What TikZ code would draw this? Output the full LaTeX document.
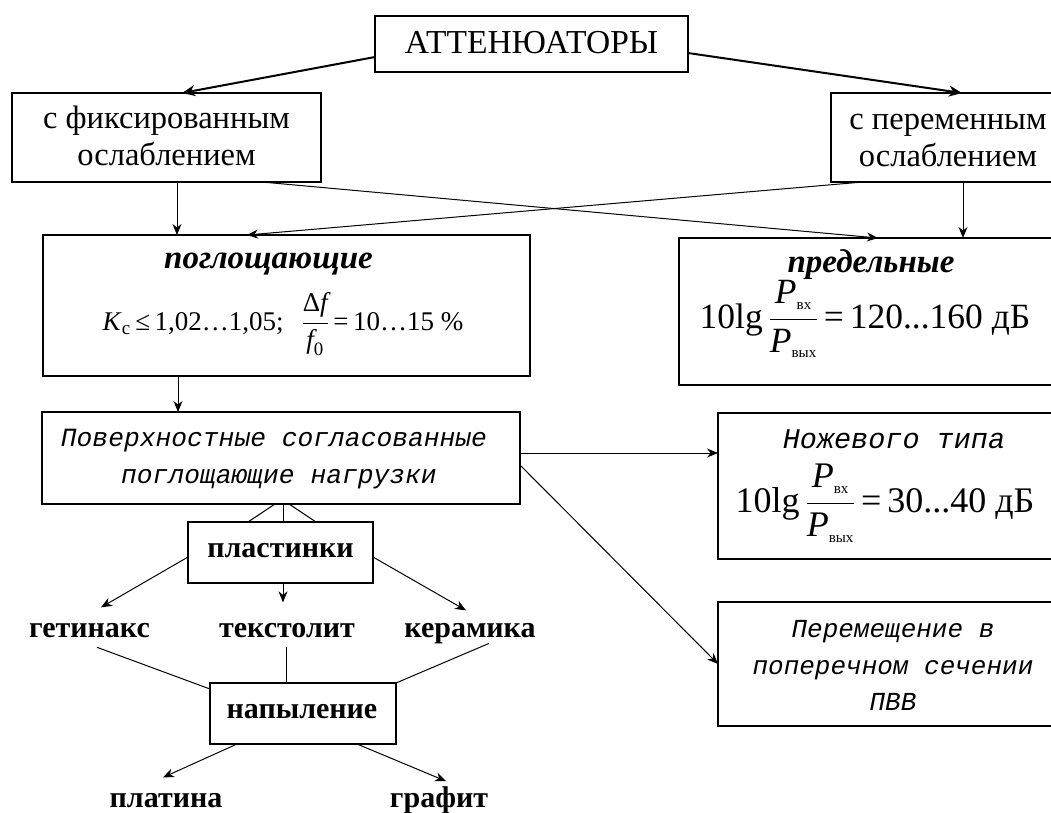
\RequirePackage{fix-cm}
\documentclass[tikz,border=0pt]{standalone}
\usepackage{amsmath}
\usepackage{fontspec}
\setmainfont{Liberation Serif}
\newfontfamily\decofont{Liberation Mono}
\usetikzlibrary{arrows.meta,calc}
\newcommand{\setfs}[1]{\fontsize{#1}{#1}\selectfont}
\newcommand{\subfs}[1]{\text{\fontsize{15}{15}\selectfont #1}}
\newcommand{\pfrac}{$\dfrac{\textit{P}_{\subfs{вх}}}{\textit{P}_{\subfs{вых}}}$}
\begin{document}
\begin{tikzpicture}[x=1pt,y=-1pt,
  box/.style={draw,line width=1.3pt,inner sep=0,outer sep=0},
  txt/.style={inner sep=0,outer sep=0,anchor=base},
  lbl/.style={txt,font=\setfs{30}\bfseries},
  con/.style={line width=1pt},
  thk/.style={line width=2pt},
  arr/.style={-{Stealth[length=11pt,width=9pt,inset=3.5pt]}},
  arrb/.style={-{Stealth[length=13pt,width=11pt,inset=4pt]}}]
\useasboundingbox (0,0) rectangle (1051,812);
% boxes
\node[box,minimum width=313pt,minimum height=56pt] (att) at (531.5,44) {};
\node[box,minimum width=309pt,minimum height=89pt] (fix) at (166.5,137.5) {};
\node[box,minimum width=229pt,minimum height=89pt] (var) at (945.5,137.5) {};
\node[box,minimum width=487pt,minimum height=141pt] (pog) at (286.5,305.5) {};
\node[box,minimum width=381pt,minimum height=147pt] (pred) at (869.5,311.5) {};
\node[box,minimum width=478pt,minimum height=92pt] (surf) at (281,458) {};
\node[box,minimum width=342pt,minimum height=146pt] (knife) at (889,486) {};
\node[box,minimum width=342pt,minimum height=124pt] (move) at (889,664) {};
\node[box,minimum width=185pt,minimum height=61pt] (plast) at (280.5,552.5) {};
\node[box,minimum width=186pt,minimum height=61pt] (nap) at (303,713.5) {};
% texts
\node[txt,font=\setfs{33.5}] (tatt) at (531.5,53) {АТТЕНЮАТОРЫ};
\node[txt,font=\setfs{32.5}] (tfix1) at (166.5,128) {с фиксированным};
\node[txt,font=\setfs{32.5}] (tfix2) at (166.5,165) {ослаблением};
\node[txt,font=\setfs{32.5}] (tvar1) at (948,129) {с переменным};
\node[txt,font=\setfs{32.5}] (tvar2) at (948,166) {ослаблением};
\node[txt,font=\setfs{33}\bfseries\itshape] (tpog) at (268.5,268) {поглощающие};
\node[txt,font=\setfs{27}] (fpog) at (283,330)
  {\textit{K}\textsubscript{с}\,≤\,1,02…1,05;\hspace{18pt}$\dfrac{\text{Δ}\textit{f}}{\textit{f}_{\text{0}}}$\,=\,10…15 \%};
\node[txt,font=\setfs{33}\bfseries\itshape] (tpred) at (871,272) {предельные};
\node[txt,font=\setfs{35.5}] (fpred) at (865,328) {10lg\,\pfrac\,=\,120...160 дБ};
\node[txt,font=\setfs{26.3}\decofont\itshape] (tsurf1) at (274,446) {Поверхностные согласованные};
\node[txt,font=\setfs{26.3}\decofont\itshape] (tsurf2) at (279,483) {поглощающие нагрузки};
\node[txt,font=\setfs{28.5}\decofont\itshape] (tknife) at (894,448) {Ножевого типа};
\node[txt,font=\setfs{36}] (fknife) at (885,512) {10lg\,\pfrac\,=\,30...40 дБ};
\node[txt,font=\setfs{26}\decofont\itshape] (tmove1) at (893,637) {Перемещение в};
\node[txt,font=\setfs{26}\decofont\itshape] (tmove2) at (893,674) {поперечном сечении};
\node[txt,font=\setfs{26}\decofont\itshape] (tmove3) at (893,710) {ПВВ};
\node[lbl] (tplast) at (280.5,557) {пластинки};
\node[lbl] (tnap) at (302,718) {напыление};
\node[lbl] (get) at (89.5,637) {гетинакс};
\node[lbl] (tex) at (287,637) {текстолит};
\node[lbl] (ker) at (470,637) {керамика};
\node[lbl] (plat) at (166,807) {платина};
\node[lbl] (graf) at (439,807) {графит};
% helper coordinates
\coordinate (f1) at ($(fix.south west)+(165,0)$);
\coordinate (v1) at ($(var.south west)+(132,0)$);
\coordinate (p1) at ($(pog.south west)+(135,0)$);
\coordinate (s1) at ($(surf.east)+(0,-5)$);
\coordinate (c1) at ($(surf.south)+(2,0)$);
\coordinate (t0) at ($(plast.south)+(2.5,0)$);
\coordinate (t1) at (t0 |- tex.north);
% connectors
\draw[thk,arrb] ($(att.west)+(0,13)$) -- ($(fix.north)+(15.5,0)$);
\draw[thk,arrb] ($(att.east)+(0,9)$) -- ($(var.north west)+(131,0)$);
\draw[con,arr] (f1) -- (f1 |- pog.north);
\draw[con,arr] ($(fix.south west)+(250,0)$) -- ($(pred.north west)+(199,0)$);
\draw[con,arr] ($(var.south west)+(32,0)$) -- ($(pog.north west)+(204,0)$);
\draw[con,arr] (v1) -- (v1 |- pred.north);
\draw[con,arr] (p1) -- (p1 |- surf.north);
\draw[con,arr] (s1) -- (s1 -| knife.west);
\draw[con,arr] ($(surf.east)+(0,7)$) -- (move.west);
\draw[con] (c1) -- (c1 |- plast.north);
\draw[con] ($(surf.south)+(-6,0)$) -- ($(plast.north)+(-32.5,0)$);
\draw[con] ($(surf.south)+(8,0)$) -- ($(plast.north)+(35.5,0)$);
\draw[con,arr] ($(plast.west)+(0,4.5)$) -- ($(get.north)+(11.5,-15.5)$);
\draw[con,arr] (t0) -- ($(t1)+(0,-20.5)$);
\draw[con,arr] ($(plast.east)+(0,4.5)$) -- ($(ker.north)+(-4,-12.5)$);
\draw[con] ($(get.south)+(7.5,10)$) -- ($(nap.north west)+(0,6)$);
\draw[con] ($(tex.south)+(-1,10)$) -- ($(nap.north west)+(76,0)$);
\draw[con] ($(ker.south)+(19,0)$) -- (nap.north east);
\draw[con,arr] ($(nap.south west)+(27,0)$) -- ($(plat.north)+(-3,-15.5)$);
\draw[con,arr] ($(nap.south west)+(147,0)$) -- ($(graf.north)+(7,-5)$);
\end{tikzpicture}
\end{document}
